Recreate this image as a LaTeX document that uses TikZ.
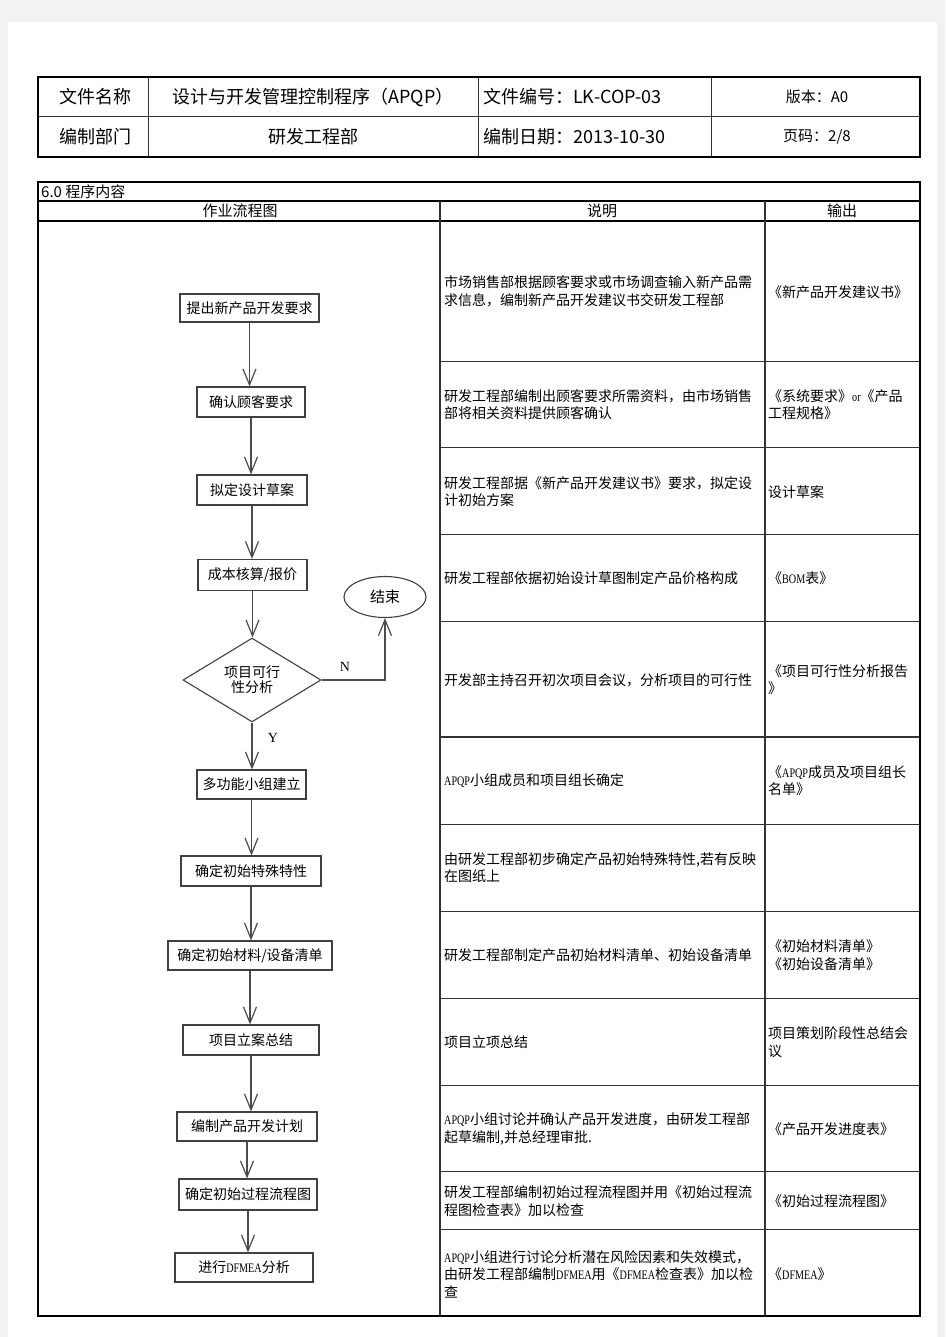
\documentclass[tikz,border=0pt]{standalone}
\usepackage{fontspec}
\setmainfont{Noto Sans CJK SC}
\newfontfamily\latf[FakeStretch=0.78]{Liberation Serif}
\newfontfamily\lblf{Liberation Serif}
\newcommand\smlat[1]{{\latf\fontsize{13}{15}\selectfont #1}}
\usetikzlibrary{shapes.geometric,arrows.meta}
\begin{document}
\begin{tikzpicture}[x=1pt,y=-1pt,
  fbox/.style={draw=black!75, line width=1.1pt, inner sep=0pt, font=\fontsize{14}{17}\selectfont},
  arr/.style={draw=black!70, line width=1.2pt, -{Straight Barb[length=16pt,width=13pt,line width=1.2pt]}},
  cell/.style={anchor=west, inner sep=0pt, align=left, font=\fontsize{14}{17.5}\selectfont},
  hdr/.style={inner sep=0pt, font=\fontsize{18}{20}\selectfont},
  hdrs/.style={inner sep=0pt, font=\fontsize{15}{17}\selectfont},
  lbl/.style={inner sep=0pt, font=\lblf\fontsize{14}{16}\selectfont},
  thick grid/.style={draw=black, line width=2.2pt},
  grid/.style={draw=black!80, line width=1pt}]
\useasboundingbox (0,0) rectangle (945,1337);
\fill[black!5] (0,0) rectangle (945,1337);
\fill[white] (8,22) rectangle (937,1337);

% header table
\draw[grid] (38,117) -- (920,117);
\draw[grid] (148,77) -- (148,157);
\draw[grid] (478,77) -- (478,157);
\draw[grid] (711,77) -- (711,157);
\draw[thick grid, line width=1.8pt] (38,77) rectangle (920,157);
\node[hdr] (h1) at (95,97) {文件名称};
\node[hdr] (h2) at (313,97) {设计与开发管理控制程序（APQP）};
\node[hdr, anchor=west] (h3) at (483,97) {文件编号：LK-COP-03};
\node[hdrs] (h4) at (817,97) {版本：A0};
\node[hdr] (h5) at (95,137) {编制部门};
\node[hdr] (h6) at (313,137) {研发工程部};
\node[hdr, anchor=west] (h7) at (483,137) {编制日期：2013-10-30};
\node[hdrs] (h8) at (817,137) {页码：2/8};

% main table
\draw[thick grid, line width=1.8pt] (38,201) -- (920,201);
\draw[thick grid, line width=1.8pt] (38,221) -- (920,221);
\draw[grid, line width=1.8pt] (440,201) -- (440,1316);
\draw[grid, line width=1.3pt] (765,201) -- (765,1316);
\foreach \yy in {361,447,534,621,824,911,998,1085,1171,1229}
  \draw[grid] (440,\yy) -- (920,\yy);
\draw[grid, line width=1.8pt] (440,737) -- (920,737);
\draw[thick grid, line width=2.6pt] (38,182) rectangle (920,1316);
\node[hdrs, anchor=west] (t0) at (41,192) {6.0 程序内容};
\node[hdrs] (t1) at (240,211) {作业流程图};
\node[hdrs] (t2) at (602,211) {说明};
\node[hdrs] (t3) at (842,211) {输出};

% descriptions
\node[cell] (d1) at (444,291.5) {市场销售部根据顾客要求或市场调查输入新产品需\\求信息，编制新产品开发建议书交研发工程部};
\node[cell] (d2) at (444,404.5) {研发工程部编制出顾客要求所需资料，由市场销售\\部将相关资料提供顾客确认};
\node[cell] (d3) at (444,491.5) {研发工程部据《新产品开发建议书》要求，拟定设\\计初始方案};
\node[cell] (d4) at (444,578) {研发工程部依据初始设计草图制定产品价格构成};
\node[cell] (d5) at (444,680) {开发部主持召开初次项目会议，分析项目的可行性};
\node[cell] (d6) at (444,781) {\smlat{APQP}小组成员和项目组长确定};
\node[cell] (d7) at (444,867.5) {由研发工程部初步确定产品初始特殊特性,若有反映\\在图纸上};
\node[cell] (d8) at (444,955) {研发工程部制定产品初始材料清单、初始设备清单};
\node[cell] (d9) at (444,1042) {项目立项总结};
\node[cell] (d10) at (444,1129) {\smlat{APQP}小组讨论并确认产品开发进度，由研发工程部\\起草编制,并总经理审批.};
\node[cell] (d11) at (444,1201) {研发工程部编制初始过程流程图并用《初始过程流\\程图检查表》加以检查};
\node[cell] (d12) at (444,1274) {\smlat{APQP}小组进行讨论分析潜在风险因素和失效模式，\\由研发工程部编制\smlat{DFMEA}用《\smlat{DFMEA}检查表》加以检\\查};

% outputs
\node[cell] (o1) at (768,292) {《新产品开发建议书》};
\node[cell] (o2) at (768,404.5) {《系统要求》\smlat{or}《产品\\工程规格》};
\node[cell] (o3) at (768,492) {设计草案};
\node[cell] (o4) at (768,578) {《\smlat{BOM}表》};
\node[cell] (o5) at (768,679.5) {《项目可行性分析报告\\》};
\node[cell] (o6) at (768,780.5) {《\smlat{APQP}成员及项目组长\\名单》};
\node[cell] (o8) at (768,955) {《初始材料清单》\\《初始设备清单》};
\node[cell] (o9) at (768,1042) {项目策划阶段性总结会\\议};
\node[cell] (o10) at (768,1129) {《产品开发进度表》};
\node[cell] (o11) at (768,1201) {《初始过程流程图》};
\node[cell] (o12) at (768,1274) {《\smlat{DFMEA}》};

% flowchart
\node[fbox, minimum width=139, minimum height=28] (b1) at (249.5,308) {提出新产品开发要求};
\node[fbox, minimum width=108, minimum height=30] (b2) at (251,402) {确认顾客要求};
\node[fbox, minimum width=110, minimum height=30] (b3) at (252,490) {拟定设计草案};
\node[fbox, minimum width=109, minimum height=31] (b4) at (252.5,575) {成本核算/报价};
\node[fbox, shape=diamond, minimum width=138, minimum height=68, align=center,
      font=\fontsize{14}{15}\selectfont] (dia) at (252,680) {项目可行\\性分析};
\node[fbox, shape=ellipse, minimum width=82, minimum height=41, font=\fontsize{15}{17}\selectfont] (end) at (385,597) {结束};
\node[fbox, minimum width=109, minimum height=29] (b5) at (251.5,784.5) {多功能小组建立};
\node[fbox, minimum width=140, minimum height=30] (b6) at (251,871) {确定初始特殊特性};
\node[fbox, minimum width=164, minimum height=29] (b7) at (250,955.5) {确定初始材料/设备清单};
\node[fbox, minimum width=136, minimum height=30] (b8) at (251,1040) {项目立案总结};
\node[fbox, minimum width=140, minimum height=29] (b9) at (247,1126.5) {编制产品开发计划};
\node[fbox, minimum width=138, minimum height=31] (b10) at (248,1194.5) {确定初始过程流程图};
\node[fbox, minimum width=138, minimum height=29] (b11) at (244,1267.5) {进行\smlat{DFMEA}分析};

\draw[arr] (b1.south) -- (b1.south |- b2.north);
\draw[arr] (b2.south) -- (b2.south |- b3.north);
\draw[arr] (b3.south) -- (b3.south |- b4.north);
\draw[arr] (b4.south) -- (b4.south |- dia.north);
\draw[arr] (dia.east) -| (end.south);
\draw[arr] (dia.south) -- (dia.south |- b5.north);
\draw[arr] (b5.south) -- (b5.south |- b6.north);
\draw[arr] (b6.south) -- (b6.south |- b7.north);
\draw[arr] (b7.south) -- (b7.south |- b8.north);
\draw[arr] (b8.south) -- (b8.south |- b9.north);
\draw[arr] (b9.south) -- (b9.south |- b10.north);
\draw[arr] (b10.south) -- (b10.south |- b11.north);
\node[lbl] (ln) at (345,667) {N};
\node[lbl] (ly) at (273,738) {Y};
\end{tikzpicture}
\end{document}
